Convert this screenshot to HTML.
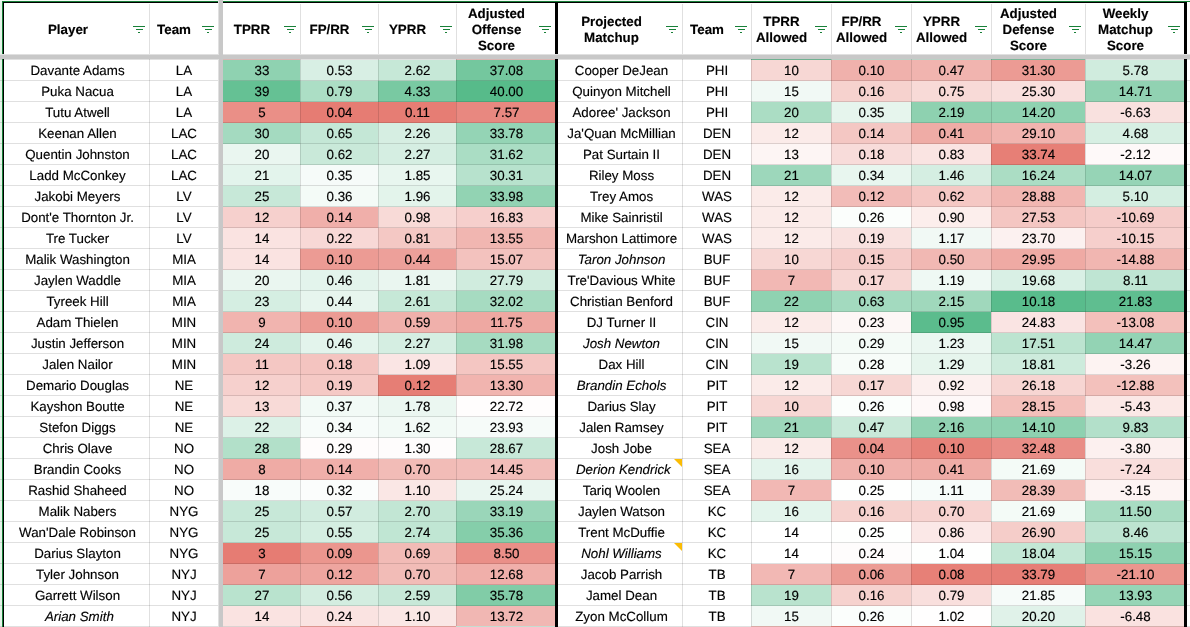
<!DOCTYPE html>
<html><head><meta charset="utf-8"><title>WR Matchups</title>
<style>
html,body{margin:0;padding:0;background:#fff;}
body{width:1190px;height:627px;position:relative;overflow:hidden;font-family:"Liberation Sans",sans-serif;font-size:13.33px;color:#000;-webkit-text-stroke:0.15px #000;text-rendering:geometricPrecision;}
.c{position:absolute;height:21px;line-height:21px;text-align:center;white-space:nowrap;overflow:hidden;box-sizing:border-box;padding-left:1px;}
.h{position:absolute;top:4px;height:51px;box-sizing:border-box;padding-left:1px;display:flex;align-items:center;justify-content:center;font-weight:bold;text-align:center;line-height:16px;white-space:nowrap;}
.h span{display:block;}
.i{font-style:italic;}
.f{position:absolute;top:26px;width:12px;height:7px;}
.f b{position:absolute;background:#188038;height:1px;display:block;}
.f b.a{left:0;top:0;width:12px;}
.f b.b{left:3px;top:3px;width:7px;height:1px;}
.f b.d{left:5px;top:6px;width:2px;height:1px;}
.v{position:absolute;top:4px;width:1px;height:623px;background:rgba(0,0,0,0.12);}
.g{position:absolute;left:0;width:1190px;height:1px;background:rgba(0,0,0,0.12);}
.k{position:absolute;background:#000;}
.n{position:absolute;width:0;height:0;border-top:8px solid #fbbc04;border-left:8px solid transparent;}
#w{position:absolute;left:0;top:0;width:1190px;height:627px;overflow:hidden;will-change:transform;}
</style></head><body><div id="w">
<div style="position:absolute;left:0;top:0;width:2px;height:627px;background:#e6f4ea"></div><div style="position:absolute;left:0;top:0;width:1190px;height:1px;background:#f4faf6"></div><div class="c" style="left:3px;top:60px;width:146px;padding-left:3px;">Davante Adams</div><div class="c" style="left:149px;top:60px;width:69px;">LA</div><div class="c" style="left:223px;top:60px;width:77px;background:#8fd2b1;">33</div><div class="c" style="left:300px;top:60px;width:78px;background:#d8efe4;">0.53</div><div class="c" style="left:378px;top:60px;width:78px;background:#c6e8d7;">2.62</div><div class="c" style="left:456px;top:60px;width:100px;background:#74c79e;">37.08</div><div class="c" style="left:556px;top:60px;width:126px;padding-left:5px;">Cooper DeJean</div><div class="c" style="left:682px;top:60px;width:69px;">PHI</div><div class="c" style="left:751px;top:60px;width:80px;background:#f7d7d4;">10</div><div class="c" style="left:831px;top:60px;width:80px;background:#f0b1ac;">0.10</div><div class="c" style="left:911px;top:60px;width:80px;background:#f1b4af;">0.47</div><div class="c" style="left:991px;top:60px;width:94px;background:#ec9b94;">31.30</div><div class="c" style="left:1085px;top:60px;width:100px;background:#d0ecde;">5.78</div>
<div class="c" style="left:3px;top:81px;width:146px;padding-left:3px;">Puka Nacua</div><div class="c" style="left:149px;top:81px;width:69px;">LA</div><div class="c" style="left:223px;top:81px;width:77px;background:#65c194;">39</div><div class="c" style="left:300px;top:81px;width:78px;background:#acdec5;">0.79</div><div class="c" style="left:378px;top:81px;width:78px;background:#79c9a2;">4.33</div><div class="c" style="left:456px;top:81px;width:100px;background:#57bb8a;">40.00</div><div class="c" style="left:556px;top:81px;width:126px;padding-left:5px;">Quinyon Mitchell</div><div class="c" style="left:682px;top:81px;width:69px;">PHI</div><div class="c" style="left:751px;top:81px;width:80px;background:#f1f9f5;">15</div><div class="c" style="left:831px;top:81px;width:80px;background:#f6d2ce;">0.16</div><div class="c" style="left:911px;top:81px;width:80px;background:#f8dad7;">0.75</div><div class="c" style="left:991px;top:81px;width:94px;background:#f9dfdd;">25.30</div><div class="c" style="left:1085px;top:81px;width:100px;background:#91d2b2;">14.71</div>
<div class="c" style="left:3px;top:102px;width:146px;padding-left:3px;">Tutu Atwell</div><div class="c" style="left:149px;top:102px;width:69px;">LA</div><div class="c" style="left:223px;top:102px;width:77px;background:#ea8f87;">5</div><div class="c" style="left:300px;top:102px;width:78px;background:#e67c73;">0.04</div><div class="c" style="left:378px;top:102px;width:78px;background:#e67d74;">0.11</div><div class="c" style="left:456px;top:102px;width:100px;background:#e88880;">7.57</div><div class="c" style="left:556px;top:102px;width:126px;padding-left:5px;">Adoree' Jackson</div><div class="c" style="left:682px;top:102px;width:69px;">PHI</div><div class="c" style="left:751px;top:102px;width:80px;background:#abddc4;">20</div><div class="c" style="left:831px;top:102px;width:80px;background:#e6f5ed;">0.35</div><div class="c" style="left:911px;top:102px;width:80px;background:#8ed1b0;">2.19</div><div class="c" style="left:991px;top:102px;width:94px;background:#8fd2b1;">14.20</div><div class="c" style="left:1085px;top:102px;width:100px;background:#f9e1df;">-6.63</div>
<div class="c" style="left:3px;top:123px;width:146px;padding-left:3px;">Keenan Allen</div><div class="c" style="left:149px;top:123px;width:69px;">LAC</div><div class="c" style="left:223px;top:123px;width:77px;background:#a4dac0;">30</div><div class="c" style="left:300px;top:123px;width:78px;background:#c4e7d6;">0.65</div><div class="c" style="left:378px;top:123px;width:78px;background:#d6eee2;">2.26</div><div class="c" style="left:456px;top:123px;width:100px;background:#94d4b5;">33.78</div><div class="c" style="left:556px;top:123px;width:126px;padding-left:5px;">Ja'Quan McMillian</div><div class="c" style="left:682px;top:123px;width:69px;">DEN</div><div class="c" style="left:751px;top:123px;width:80px;background:#fbebe9;">12</div><div class="c" style="left:831px;top:123px;width:80px;background:#f4c7c3;">0.14</div><div class="c" style="left:911px;top:123px;width:80px;background:#efaca6;">0.41</div><div class="c" style="left:991px;top:123px;width:94px;background:#f1b4af;">29.10</div><div class="c" style="left:1085px;top:123px;width:100px;background:#d7efe3;">4.68</div>
<div class="c" style="left:3px;top:144px;width:146px;padding-left:3px;">Quentin Johnston</div><div class="c" style="left:149px;top:144px;width:69px;">LAC</div><div class="c" style="left:223px;top:144px;width:77px;background:#eaf6f0;">20</div><div class="c" style="left:300px;top:144px;width:78px;background:#c9e9d9;">0.62</div><div class="c" style="left:378px;top:144px;width:78px;background:#d5eee2;">2.27</div><div class="c" style="left:456px;top:144px;width:100px;background:#aaddc4;">31.62</div><div class="c" style="left:556px;top:144px;width:126px;padding-left:5px;">Pat Surtain II</div><div class="c" style="left:682px;top:144px;width:69px;">DEN</div><div class="c" style="left:751px;top:144px;width:80px;background:#fdf5f4;">13</div><div class="c" style="left:831px;top:144px;width:80px;background:#f8dcda;">0.18</div><div class="c" style="left:911px;top:144px;width:80px;background:#fae4e2;">0.83</div><div class="c" style="left:991px;top:144px;width:94px;background:#e77f76;">33.74</div><div class="c" style="left:1085px;top:144px;width:100px;background:#fef9f9;">-2.12</div>
<div class="c" style="left:3px;top:165px;width:146px;padding-left:3px;">Ladd McConkey</div><div class="c" style="left:149px;top:165px;width:69px;">LAC</div><div class="c" style="left:223px;top:165px;width:77px;background:#e3f4ec;">21</div><div class="c" style="left:300px;top:165px;width:78px;background:#f6fbf9;">0.35</div><div class="c" style="left:378px;top:165px;width:78px;background:#e8f6ef;">1.85</div><div class="c" style="left:456px;top:165px;width:100px;background:#b7e2cd;">30.31</div><div class="c" style="left:556px;top:165px;width:126px;padding-left:5px;">Riley Moss</div><div class="c" style="left:682px;top:165px;width:69px;">DEN</div><div class="c" style="left:751px;top:165px;width:80px;background:#9dd7bb;">21</div><div class="c" style="left:831px;top:165px;width:80px;background:#e8f6ef;">0.34</div><div class="c" style="left:911px;top:165px;width:80px;background:#d5eee2;">1.46</div><div class="c" style="left:991px;top:165px;width:94px;background:#abddc4;">16.24</div><div class="c" style="left:1085px;top:165px;width:100px;background:#96d4b6;">14.07</div>
<div class="c" style="left:3px;top:186px;width:146px;padding-left:3px;">Jakobi Meyers</div><div class="c" style="left:149px;top:186px;width:69px;">LV</div><div class="c" style="left:223px;top:186px;width:77px;background:#c7e8d8;">25</div><div class="c" style="left:300px;top:186px;width:78px;background:#f4fbf7;">0.36</div><div class="c" style="left:378px;top:186px;width:78px;background:#e3f4eb;">1.96</div><div class="c" style="left:456px;top:186px;width:100px;background:#92d3b3;">33.98</div><div class="c" style="left:556px;top:186px;width:126px;padding-left:5px;">Trey Amos</div><div class="c" style="left:682px;top:186px;width:69px;">WAS</div><div class="c" style="left:751px;top:186px;width:80px;background:#fbebe9;">12</div><div class="c" style="left:831px;top:186px;width:80px;background:#f2bcb8;">0.12</div><div class="c" style="left:911px;top:186px;width:80px;background:#f5c8c4;">0.62</div><div class="c" style="left:991px;top:186px;width:94px;background:#f1b6b1;">28.88</div><div class="c" style="left:1085px;top:186px;width:100px;background:#d4eee1;">5.10</div>
<div class="c" style="left:3px;top:207px;width:146px;padding-left:3px;">Dont'e Thornton Jr.</div><div class="c" style="left:149px;top:207px;width:69px;">LV</div><div class="c" style="left:223px;top:207px;width:77px;background:#f6d0cd;">12</div><div class="c" style="left:300px;top:207px;width:78px;background:#f0afaa;">0.14</div><div class="c" style="left:378px;top:207px;width:78px;background:#f8dad7;">0.98</div><div class="c" style="left:456px;top:207px;width:100px;background:#f6cfcc;">16.83</div><div class="c" style="left:556px;top:207px;width:126px;padding-left:5px;">Mike Sainristil</div><div class="c" style="left:682px;top:207px;width:69px;">WAS</div><div class="c" style="left:751px;top:207px;width:80px;background:#fbebe9;">12</div><div class="c" style="left:831px;top:207px;width:80px;background:#fbfefc;">0.26</div><div class="c" style="left:911px;top:207px;width:80px;background:#fceeec;">0.90</div><div class="c" style="left:991px;top:207px;width:94px;background:#f4c6c2;">27.53</div><div class="c" style="left:1085px;top:207px;width:100px;background:#f5ccc9;">-10.69</div>
<div class="c" style="left:3px;top:228px;width:146px;padding-left:3px;">Tre Tucker</div><div class="c" style="left:149px;top:228px;width:69px;">LV</div><div class="c" style="left:223px;top:228px;width:77px;background:#fae3e1;">14</div><div class="c" style="left:300px;top:228px;width:78px;background:#f8d8d6;">0.22</div><div class="c" style="left:378px;top:228px;width:78px;background:#f4c8c4;">0.81</div><div class="c" style="left:456px;top:228px;width:100px;background:#f1b6b1;">13.55</div><div class="c" style="left:556px;top:228px;width:126px;padding-left:5px;">Marshon Lattimore</div><div class="c" style="left:682px;top:228px;width:69px;">WAS</div><div class="c" style="left:751px;top:228px;width:80px;background:#fbebe9;">12</div><div class="c" style="left:831px;top:228px;width:80px;background:#f9e2e0;">0.19</div><div class="c" style="left:911px;top:228px;width:80px;background:#f1f9f5;">1.17</div><div class="c" style="left:991px;top:228px;width:94px;background:#fcf1f0;">23.70</div><div class="c" style="left:1085px;top:228px;width:100px;background:#f6cfcc;">-10.15</div>
<div class="c" style="left:3px;top:249px;width:146px;padding-left:3px;">Malik Washington</div><div class="c" style="left:149px;top:249px;width:69px;">MIA</div><div class="c" style="left:223px;top:249px;width:77px;background:#fae3e1;">14</div><div class="c" style="left:300px;top:249px;width:78px;background:#ec9b94;">0.10</div><div class="c" style="left:378px;top:249px;width:78px;background:#eda09a;">0.44</div><div class="c" style="left:456px;top:249px;width:100px;background:#f3c2be;">15.07</div><div class="c i" style="left:556px;top:249px;width:126px;padding-left:5px;">Taron Johnson</div><div class="c" style="left:682px;top:249px;width:69px;">BUF</div><div class="c" style="left:751px;top:249px;width:80px;background:#f7d7d4;">10</div><div class="c" style="left:831px;top:249px;width:80px;background:#f5ccc9;">0.15</div><div class="c" style="left:911px;top:249px;width:80px;background:#f1b8b3;">0.50</div><div class="c" style="left:991px;top:249px;width:94px;background:#efaaa4;">29.95</div><div class="c" style="left:1085px;top:249px;width:100px;background:#f1b6b1;">-14.88</div>
<div class="c" style="left:3px;top:270px;width:146px;padding-left:3px;">Jaylen Waddle</div><div class="c" style="left:149px;top:270px;width:69px;">MIA</div><div class="c" style="left:223px;top:270px;width:77px;background:#eaf6f0;">20</div><div class="c" style="left:300px;top:270px;width:78px;background:#e3f4ec;">0.46</div><div class="c" style="left:378px;top:270px;width:78px;background:#eaf6f0;">1.81</div><div class="c" style="left:456px;top:270px;width:100px;background:#d0ecde;">27.79</div><div class="c" style="left:556px;top:270px;width:126px;padding-left:5px;">Tre'Davious White</div><div class="c" style="left:682px;top:270px;width:69px;">BUF</div><div class="c" style="left:751px;top:270px;width:80px;background:#f2b8b4;">7</div><div class="c" style="left:831px;top:270px;width:80px;background:#f7d7d4;">0.17</div><div class="c" style="left:911px;top:270px;width:80px;background:#eff9f4;">1.19</div><div class="c" style="left:991px;top:270px;width:94px;background:#d9f0e5;">19.68</div><div class="c" style="left:1085px;top:270px;width:100px;background:#bfe5d3;">8.11</div>
<div class="c" style="left:3px;top:291px;width:146px;padding-left:3px;">Tyreek Hill</div><div class="c" style="left:149px;top:291px;width:69px;">MIA</div><div class="c" style="left:223px;top:291px;width:77px;background:#d5eee2;">23</div><div class="c" style="left:300px;top:291px;width:78px;background:#e7f5ee;">0.44</div><div class="c" style="left:378px;top:291px;width:78px;background:#c6e8d7;">2.61</div><div class="c" style="left:456px;top:291px;width:100px;background:#a6dbc1;">32.02</div><div class="c" style="left:556px;top:291px;width:126px;padding-left:5px;">Christian Benford</div><div class="c" style="left:682px;top:291px;width:69px;">BUF</div><div class="c" style="left:751px;top:291px;width:80px;background:#8fd2b1;">22</div><div class="c" style="left:831px;top:291px;width:80px;background:#a3dabf;">0.63</div><div class="c" style="left:911px;top:291px;width:80px;background:#a0d8bc;">2.15</div><div class="c" style="left:991px;top:291px;width:94px;background:#59bc8c;">10.18</div><div class="c" style="left:1085px;top:291px;width:100px;background:#5fbe90;">21.83</div>
<div class="c" style="left:3px;top:312px;width:146px;padding-left:3px;">Adam Thielen</div><div class="c" style="left:149px;top:312px;width:69px;">MIN</div><div class="c" style="left:223px;top:312px;width:77px;background:#f1b4af;">9</div><div class="c" style="left:300px;top:312px;width:78px;background:#ec9b94;">0.10</div><div class="c" style="left:378px;top:312px;width:78px;background:#f0b0ab;">0.59</div><div class="c" style="left:456px;top:312px;width:100px;background:#eea8a2;">11.75</div><div class="c" style="left:556px;top:312px;width:126px;padding-left:5px;">DJ Turner II</div><div class="c" style="left:682px;top:312px;width:69px;">CIN</div><div class="c" style="left:751px;top:312px;width:80px;background:#fbebe9;">12</div><div class="c" style="left:831px;top:312px;width:80px;background:#fdf7f6;">0.23</div><div class="c" style="left:911px;top:312px;width:80px;background:#5bbc8d;">0.95</div><div class="c" style="left:991px;top:312px;width:94px;background:#fae4e3;">24.83</div><div class="c" style="left:1085px;top:312px;width:100px;background:#f3c0bb;">-13.08</div>
<div class="c" style="left:3px;top:333px;width:146px;padding-left:3px;">Justin Jefferson</div><div class="c" style="left:149px;top:333px;width:69px;">MIN</div><div class="c" style="left:223px;top:333px;width:77px;background:#ceebdd;">24</div><div class="c" style="left:300px;top:333px;width:78px;background:#e3f4ec;">0.46</div><div class="c" style="left:378px;top:333px;width:78px;background:#d5eee2;">2.27</div><div class="c" style="left:456px;top:333px;width:100px;background:#a6dbc1;">31.98</div><div class="c i" style="left:556px;top:333px;width:126px;padding-left:5px;">Josh Newton</div><div class="c" style="left:682px;top:333px;width:69px;">CIN</div><div class="c" style="left:751px;top:333px;width:80px;background:#f1f9f5;">15</div><div class="c" style="left:831px;top:333px;width:80px;background:#f4fbf7;">0.29</div><div class="c" style="left:911px;top:333px;width:80px;background:#ebf7f1;">1.23</div><div class="c" style="left:991px;top:333px;width:94px;background:#bce4d0;">17.51</div><div class="c" style="left:1085px;top:333px;width:100px;background:#93d3b4;">14.47</div>
<div class="c" style="left:3px;top:354px;width:146px;padding-left:3px;">Jalen Nailor</div><div class="c" style="left:149px;top:354px;width:69px;">MIN</div><div class="c" style="left:223px;top:354px;width:77px;background:#f4c7c3;">11</div><div class="c" style="left:300px;top:354px;width:78px;background:#f4c4c0;">0.18</div><div class="c" style="left:378px;top:354px;width:78px;background:#fae5e4;">1.09</div><div class="c" style="left:456px;top:354px;width:100px;background:#f4c6c2;">15.55</div><div class="c" style="left:556px;top:354px;width:126px;padding-left:5px;">Dax Hill</div><div class="c" style="left:682px;top:354px;width:69px;">CIN</div><div class="c" style="left:751px;top:354px;width:80px;background:#b9e3ce;">19</div><div class="c" style="left:831px;top:354px;width:80px;background:#f7fcf9;">0.28</div><div class="c" style="left:911px;top:354px;width:80px;background:#e6f5ed;">1.29</div><div class="c" style="left:991px;top:354px;width:94px;background:#cdebdc;">18.81</div><div class="c" style="left:1085px;top:354px;width:100px;background:#fdf3f2;">-3.26</div>
<div class="c" style="left:3px;top:375px;width:146px;padding-left:3px;">Demario Douglas</div><div class="c" style="left:149px;top:375px;width:69px;">NE</div><div class="c" style="left:223px;top:375px;width:77px;background:#f6d0cd;">12</div><div class="c" style="left:300px;top:375px;width:78px;background:#f5c9c5;">0.19</div><div class="c" style="left:378px;top:375px;width:78px;background:#e67e75;">0.12</div><div class="c" style="left:456px;top:375px;width:100px;background:#f1b4af;">13.30</div><div class="c i" style="left:556px;top:375px;width:126px;padding-left:5px;">Brandin Echols</div><div class="c" style="left:682px;top:375px;width:69px;">PIT</div><div class="c" style="left:751px;top:375px;width:80px;background:#fbebe9;">12</div><div class="c" style="left:831px;top:375px;width:80px;background:#f7d7d4;">0.17</div><div class="c" style="left:911px;top:375px;width:80px;background:#fcf0ef;">0.92</div><div class="c" style="left:991px;top:375px;width:94px;background:#f7d5d2;">26.18</div><div class="c" style="left:1085px;top:375px;width:100px;background:#f3c1bc;">-12.88</div>
<div class="c" style="left:3px;top:396px;width:146px;padding-left:3px;">Kayshon Boutte</div><div class="c" style="left:149px;top:396px;width:69px;">NE</div><div class="c" style="left:223px;top:396px;width:77px;background:#f8dad7;">13</div><div class="c" style="left:300px;top:396px;width:78px;background:#f2faf6;">0.37</div><div class="c" style="left:378px;top:396px;width:78px;background:#ebf7f1;">1.78</div><div class="c" style="left:456px;top:396px;width:100px;background:#fffdfd;">22.72</div><div class="c" style="left:556px;top:396px;width:126px;padding-left:5px;">Darius Slay</div><div class="c" style="left:682px;top:396px;width:69px;">PIT</div><div class="c" style="left:751px;top:396px;width:80px;background:#f7d7d4;">10</div><div class="c" style="left:831px;top:396px;width:80px;background:#fbfefc;">0.26</div><div class="c" style="left:911px;top:396px;width:80px;background:#fef8f8;">0.98</div><div class="c" style="left:991px;top:396px;width:94px;background:#f3bfba;">28.15</div><div class="c" style="left:1085px;top:396px;width:100px;background:#fbe8e6;">-5.43</div>
<div class="c" style="left:3px;top:417px;width:146px;padding-left:3px;">Stefon Diggs</div><div class="c" style="left:149px;top:417px;width:69px;">NE</div><div class="c" style="left:223px;top:417px;width:77px;background:#dcf1e7;">22</div><div class="c" style="left:300px;top:417px;width:78px;background:#f7fcfa;">0.34</div><div class="c" style="left:378px;top:417px;width:78px;background:#f2faf6;">1.62</div><div class="c" style="left:456px;top:417px;width:100px;background:#f6fbf9;">23.93</div><div class="c" style="left:556px;top:417px;width:126px;padding-left:5px;">Jalen Ramsey</div><div class="c" style="left:682px;top:417px;width:69px;">PIT</div><div class="c" style="left:751px;top:417px;width:80px;background:#9dd7bb;">21</div><div class="c" style="left:831px;top:417px;width:80px;background:#c9e9d9;">0.47</div><div class="c" style="left:911px;top:417px;width:80px;background:#91d2b2;">2.16</div><div class="c" style="left:991px;top:417px;width:94px;background:#8ed1b0;">14.10</div><div class="c" style="left:1085px;top:417px;width:100px;background:#b3e0ca;">9.83</div>
<div class="c" style="left:3px;top:438px;width:146px;padding-left:3px;">Chris Olave</div><div class="c" style="left:149px;top:438px;width:69px;">NO</div><div class="c" style="left:223px;top:438px;width:77px;background:#b2e0c9;">28</div><div class="c" style="left:300px;top:438px;width:78px;background:#fffcfc;">0.29</div><div class="c" style="left:378px;top:438px;width:78px;background:#fefcfc;">1.30</div><div class="c" style="left:456px;top:438px;width:100px;background:#c7e8d8;">28.67</div><div class="c" style="left:556px;top:438px;width:126px;padding-left:5px;">Josh Jobe</div><div class="c" style="left:682px;top:438px;width:69px;">SEA</div><div class="c" style="left:751px;top:438px;width:80px;background:#fbebe9;">12</div><div class="c" style="left:831px;top:438px;width:80px;background:#ea918a;">0.04</div><div class="c" style="left:911px;top:438px;width:80px;background:#e7837a;">0.10</div><div class="c" style="left:991px;top:438px;width:94px;background:#e98d86;">32.48</div><div class="c" style="left:1085px;top:438px;width:100px;background:#fcf0ef;">-3.80</div>
<div class="c" style="left:3px;top:459px;width:146px;padding-left:3px;">Brandin Cooks</div><div class="c" style="left:149px;top:459px;width:69px;">NO</div><div class="c" style="left:223px;top:459px;width:77px;background:#efaba5;">8</div><div class="c" style="left:300px;top:459px;width:78px;background:#f0afaa;">0.14</div><div class="c" style="left:378px;top:459px;width:78px;background:#f2bcb7;">0.70</div><div class="c" style="left:456px;top:459px;width:100px;background:#f2bdb9;">14.45</div><div class="c i" style="left:556px;top:459px;width:126px;padding-left:5px;">&nbsp;Derion Kendrick</div><div class="n" style="left:674px;top:459px"></div><div class="c" style="left:682px;top:459px;width:69px;">SEA</div><div class="c" style="left:751px;top:459px;width:80px;background:#e3f4ec;">16</div><div class="c" style="left:831px;top:459px;width:80px;background:#f0b1ac;">0.10</div><div class="c" style="left:911px;top:459px;width:80px;background:#efaca6;">0.41</div><div class="c" style="left:991px;top:459px;width:94px;background:#f4fbf7;">21.69</div><div class="c" style="left:1085px;top:459px;width:100px;background:#f9dedc;">-7.24</div>
<div class="c" style="left:3px;top:480px;width:146px;padding-left:3px;">Rashid Shaheed</div><div class="c" style="left:149px;top:480px;width:69px;">NO</div><div class="c" style="left:223px;top:480px;width:77px;background:#f8fcfa;">18</div><div class="c" style="left:300px;top:480px;width:78px;background:#fbfdfc;">0.32</div><div class="c" style="left:378px;top:480px;width:78px;background:#fae7e5;">1.10</div><div class="c" style="left:456px;top:480px;width:100px;background:#e9f6f0;">25.24</div><div class="c" style="left:556px;top:480px;width:126px;padding-left:5px;">Tariq Woolen</div><div class="c" style="left:682px;top:480px;width:69px;">SEA</div><div class="c" style="left:751px;top:480px;width:80px;background:#f2b8b4;">7</div><div class="c" style="left:831px;top:480px;width:80px;background:#fefffe;">0.25</div><div class="c" style="left:911px;top:480px;width:80px;background:#f7fcfa;">1.11</div><div class="c" style="left:991px;top:480px;width:94px;background:#f2bcb7;">28.39</div><div class="c" style="left:1085px;top:480px;width:100px;background:#fdf4f3;">-3.15</div>
<div class="c" style="left:3px;top:501px;width:146px;padding-left:3px;">Malik Nabers</div><div class="c" style="left:149px;top:501px;width:69px;">NYG</div><div class="c" style="left:223px;top:501px;width:77px;background:#c7e8d8;">25</div><div class="c" style="left:300px;top:501px;width:78px;background:#d1ecdf;">0.57</div><div class="c" style="left:378px;top:501px;width:78px;background:#c2e6d4;">2.70</div><div class="c" style="left:456px;top:501px;width:100px;background:#9ad6b9;">33.19</div><div class="c" style="left:556px;top:501px;width:126px;padding-left:5px;">Jaylen Watson</div><div class="c" style="left:682px;top:501px;width:69px;">KC</div><div class="c" style="left:751px;top:501px;width:80px;background:#e3f4ec;">16</div><div class="c" style="left:831px;top:501px;width:80px;background:#f6d2ce;">0.16</div><div class="c" style="left:911px;top:501px;width:80px;background:#f7d3d0;">0.70</div><div class="c" style="left:991px;top:501px;width:94px;background:#f4fbf7;">21.69</div><div class="c" style="left:1085px;top:501px;width:100px;background:#a8dcc2;">11.50</div>
<div class="c" style="left:3px;top:522px;width:146px;padding-left:3px;">Wan'Dale Robinson</div><div class="c" style="left:149px;top:522px;width:69px;">NYG</div><div class="c" style="left:223px;top:522px;width:77px;background:#c7e8d8;">25</div><div class="c" style="left:300px;top:522px;width:78px;background:#d4eee1;">0.55</div><div class="c" style="left:378px;top:522px;width:78px;background:#c0e6d3;">2.74</div><div class="c" style="left:456px;top:522px;width:100px;background:#85ceaa;">35.36</div><div class="c" style="left:556px;top:522px;width:126px;padding-left:5px;">Trent McDuffie</div><div class="c" style="left:682px;top:522px;width:69px;">KC</div><div class="c" style="left:751px;top:522px;width:80px;background:#ffffff;">14</div><div class="c" style="left:831px;top:522px;width:80px;background:#fefffe;">0.25</div><div class="c" style="left:911px;top:522px;width:80px;background:#fbe8e7;">0.86</div><div class="c" style="left:991px;top:522px;width:94px;background:#f5cdc9;">26.90</div><div class="c" style="left:1085px;top:522px;width:100px;background:#bde4d1;">8.46</div>
<div class="c" style="left:3px;top:543px;width:146px;padding-left:3px;">Darius Slayton</div><div class="c" style="left:149px;top:543px;width:69px;">NYG</div><div class="c" style="left:223px;top:543px;width:77px;background:#e67c73;">3</div><div class="c" style="left:300px;top:543px;width:78px;background:#eb968e;">0.09</div><div class="c" style="left:378px;top:543px;width:78px;background:#f2bbb6;">0.69</div><div class="c" style="left:456px;top:543px;width:100px;background:#ea8f88;">8.50</div><div class="c i" style="left:556px;top:543px;width:126px;padding-left:5px;">Nohl Williams</div><div class="n" style="left:674px;top:543px"></div><div class="c" style="left:682px;top:543px;width:69px;">KC</div><div class="c" style="left:751px;top:543px;width:80px;background:#ffffff;">14</div><div class="c" style="left:831px;top:543px;width:80px;background:#fefcfc;">0.24</div><div class="c" style="left:911px;top:543px;width:80px;background:#fefffe;">1.04</div><div class="c" style="left:991px;top:543px;width:94px;background:#c3e7d5;">18.04</div><div class="c" style="left:1085px;top:543px;width:100px;background:#8ed1b0;">15.15</div>
<div class="c" style="left:3px;top:564px;width:146px;padding-left:3px;">Tyler Johnson</div><div class="c" style="left:149px;top:564px;width:69px;">NYJ</div><div class="c" style="left:223px;top:564px;width:77px;background:#eda19b;">7</div><div class="c" style="left:300px;top:564px;width:78px;background:#eea59f;">0.12</div><div class="c" style="left:378px;top:564px;width:78px;background:#f2bcb7;">0.70</div><div class="c" style="left:456px;top:564px;width:100px;background:#f0afaa;">12.68</div><div class="c" style="left:556px;top:564px;width:126px;padding-left:5px;">Jacob Parrish</div><div class="c" style="left:682px;top:564px;width:69px;">TB</div><div class="c" style="left:751px;top:564px;width:80px;background:#f2b8b4;">7</div><div class="c" style="left:831px;top:564px;width:80px;background:#ec9c95;">0.06</div><div class="c" style="left:911px;top:564px;width:80px;background:#e78077;">0.08</div><div class="c" style="left:991px;top:564px;width:94px;background:#e67e76;">33.79</div><div class="c" style="left:1085px;top:564px;width:100px;background:#eb968e;">-21.10</div>
<div class="c" style="left:3px;top:585px;width:146px;padding-left:3px;">Garrett Wilson</div><div class="c" style="left:149px;top:585px;width:69px;">NYJ</div><div class="c" style="left:223px;top:585px;width:77px;background:#b9e3ce;">27</div><div class="c" style="left:300px;top:585px;width:78px;background:#d3ede0;">0.56</div><div class="c" style="left:378px;top:585px;width:78px;background:#c7e8d8;">2.59</div><div class="c" style="left:456px;top:585px;width:100px;background:#81cca7;">35.78</div><div class="c" style="left:556px;top:585px;width:126px;padding-left:5px;">Jamel Dean</div><div class="c" style="left:682px;top:585px;width:69px;">TB</div><div class="c" style="left:751px;top:585px;width:80px;background:#b9e3ce;">19</div><div class="c" style="left:831px;top:585px;width:80px;background:#f6d2ce;">0.16</div><div class="c" style="left:911px;top:585px;width:80px;background:#f9dfdd;">0.79</div><div class="c" style="left:991px;top:585px;width:94px;background:#f6fbf9;">21.85</div><div class="c" style="left:1085px;top:585px;width:100px;background:#96d5b6;">13.93</div>
<div class="c i" style="left:3px;top:606px;width:146px;padding-left:3px;">&nbsp;Arian Smith</div><div class="c" style="left:149px;top:606px;width:69px;">NYJ</div><div class="c" style="left:223px;top:606px;width:77px;background:#fae3e1;">14</div><div class="c" style="left:300px;top:606px;width:78px;background:#fae3e1;">0.24</div><div class="c" style="left:378px;top:606px;width:78px;background:#fae7e5;">1.10</div><div class="c" style="left:456px;top:606px;width:100px;background:#f1b7b3;">13.72</div><div class="c" style="left:556px;top:606px;width:126px;padding-left:5px;">Zyon McCollum</div><div class="c" style="left:682px;top:606px;width:69px;">TB</div><div class="c" style="left:751px;top:606px;width:80px;background:#f1f9f5;">15</div><div class="c" style="left:831px;top:606px;width:80px;background:#fbfefc;">0.26</div><div class="c" style="left:911px;top:606px;width:80px;background:#fffefe;">1.02</div><div class="c" style="left:991px;top:606px;width:94px;background:#e0f2e9;">20.20</div><div class="c" style="left:1085px;top:606px;width:100px;background:#fae2e0;">-6.48</div>
<div style="position:absolute;left:223px;top:59px;width:77px;height:1px;background:#f8d0cc"></div><div style="position:absolute;left:456px;top:59px;width:100px;height:1px;background:#f8d0cc"></div><div style="position:absolute;left:751px;top:59px;width:80px;height:1px;background:#7fcaa6"></div><div style="position:absolute;left:831px;top:59px;width:80px;height:1px;background:#d5eee2"></div><div style="position:absolute;left:911px;top:59px;width:80px;height:1px;background:#d5eee2"></div><div style="position:absolute;left:991px;top:59px;width:94px;height:1px;background:#8fd1b0"></div><div class="h" style="left:3px;width:126px;padding-left:4px;"><div><span>Player</span></div></div><div class="f" style="left:133px"><b class="a"></b><b class="b"></b><b class="d"></b></div><div class="h" style="left:149px;width:49px;"><div><span>Team</span></div></div><div class="f" style="left:202px"><b class="a"></b><b class="b"></b><b class="d"></b></div><div class="h" style="left:223px;width:57px;"><div><span>TPRR</span></div></div><div class="f" style="left:284px"><b class="a"></b><b class="b"></b><b class="d"></b></div><div class="h" style="left:300px;width:58px;"><div><span>FP/RR</span></div></div><div class="f" style="left:362px"><b class="a"></b><b class="b"></b><b class="d"></b></div><div class="h" style="left:378px;width:58px;"><div><span>YPRR</span></div></div><div class="f" style="left:440px"><b class="a"></b><b class="b"></b><b class="d"></b></div><div class="h" style="left:456px;width:80px;"><div><span>Adjusted</span><span>Offense</span><span>Score</span></div></div><div class="f" style="left:539px"><b class="a"></b><b class="b"></b><b class="d"></b></div><div class="h" style="left:556px;width:106px;padding-left:5px;"><div><span>Projected</span><span>Matchup</span></div></div><div class="f" style="left:666px"><b class="a"></b><b class="b"></b><b class="d"></b></div><div class="h" style="left:682px;width:49px;"><div><span>Team</span></div></div><div class="f" style="left:735px"><b class="a"></b><b class="b"></b><b class="d"></b></div><div class="h" style="left:751px;width:60px;"><div><span>TPRR</span><span>Allowed</span></div></div><div class="f" style="left:815px"><b class="a"></b><b class="b"></b><b class="d"></b></div><div class="h" style="left:831px;width:60px;"><div><span>FP/RR</span><span>Allowed</span></div></div><div class="f" style="left:895px"><b class="a"></b><b class="b"></b><b class="d"></b></div><div class="h" style="left:911px;width:60px;"><div><span>YPRR</span><span>Allowed</span></div></div><div class="f" style="left:975px"><b class="a"></b><b class="b"></b><b class="d"></b></div><div class="h" style="left:991px;width:74px;"><div><span>Adjusted</span><span>Defense</span><span>Score</span></div></div><div class="f" style="left:1069px"><b class="a"></b><b class="b"></b><b class="d"></b></div><div class="h" style="left:1085px;width:80px;"><div><span>Weekly</span><span>Matchup</span><span>Score</span></div></div><div class="f" style="left:1168px"><b class="a"></b><b class="b"></b><b class="d"></b></div>
<div class="v" style="left:149px"></div><div class="v" style="left:300px"></div><div class="v" style="left:378px"></div><div class="v" style="left:456px"></div><div class="v" style="left:682px"></div><div class="v" style="left:751px"></div><div class="v" style="left:831px"></div><div class="v" style="left:911px"></div><div class="v" style="left:991px"></div><div class="v" style="left:1085px"></div><div class="g" style="top:59px"></div><div class="g" style="top:80px"></div><div class="g" style="top:101px"></div><div class="g" style="top:122px"></div><div class="g" style="top:143px"></div><div class="g" style="top:164px"></div><div class="g" style="top:185px"></div><div class="g" style="top:206px"></div><div class="g" style="top:227px"></div><div class="g" style="top:248px"></div><div class="g" style="top:269px"></div><div class="g" style="top:290px"></div><div class="g" style="top:311px"></div><div class="g" style="top:332px"></div><div class="g" style="top:353px"></div><div class="g" style="top:374px"></div><div class="g" style="top:395px"></div><div class="g" style="top:416px"></div><div class="g" style="top:437px"></div><div class="g" style="top:458px"></div><div class="g" style="top:479px"></div><div class="g" style="top:500px"></div><div class="g" style="top:521px"></div><div class="g" style="top:542px"></div><div class="g" style="top:563px"></div><div class="g" style="top:584px"></div><div class="g" style="top:605px"></div><div class="g" style="top:626px"></div>
<div style="position:absolute;left:223px;top:626px;width:77px;height:1px;background:#dcd3d2"></div><div style="position:absolute;left:300px;top:626px;width:78px;height:1px;background:#dc9790"></div><div style="position:absolute;left:378px;top:626px;width:78px;height:1px;background:#dd9e98"></div><div style="position:absolute;left:456px;top:626px;width:100px;height:1px;background:#c5dcd0"></div><div style="position:absolute;left:751px;top:626px;width:80px;height:1px;background:#dba9a5"></div><div style="position:absolute;left:831px;top:626px;width:80px;height:1px;background:#d97a73"></div><div style="position:absolute;left:911px;top:626px;width:80px;height:1px;background:#d9827c"></div><div style="position:absolute;left:991px;top:626px;width:94px;height:1px;background:#8fb8a3"></div><div style="position:absolute;left:1085px;top:626px;width:100px;height:1px;background:#d4b0ac"></div>
<div class="k" style="left:555px;top:2px;width:3px;height:625px"></div><div class="k" style="left:1184px;top:2px;width:3px;height:625px"></div><div class="k" style="left:3px;top:2px;width:1184px;height:1px"></div><div class="k" style="left:3px;top:2px;width:1px;height:625px"></div><div style="position:absolute;left:2px;top:1px;width:1188px;height:1px;background:#188038"></div><div style="position:absolute;left:2px;top:1px;width:1px;height:626px;background:#188038"></div><div style="position:absolute;left:218px;top:0;width:1px;height:627px;background:#e0e0e0"></div><div style="position:absolute;left:0;top:54px;width:1190px;height:1px;background:#e0e0e0"></div><div style="position:absolute;left:219px;top:0;width:4px;height:627px;background:#c8c8c8"></div><div style="position:absolute;left:0;top:55px;width:1190px;height:4px;background:#c8c8c8"></div></div></body></html>
